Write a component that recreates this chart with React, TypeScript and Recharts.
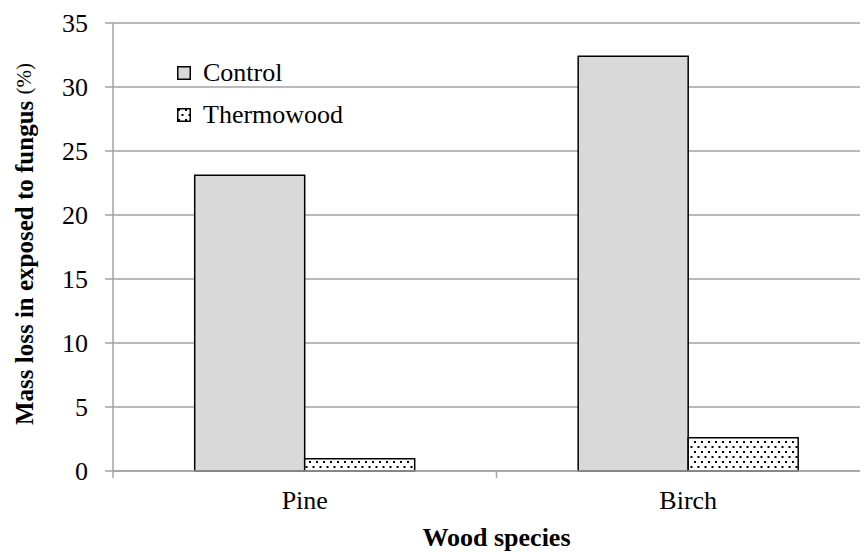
import { BarChart, Bar, XAxis, YAxis, CartesianGrid, Label } from 'recharts';

const species = ['Pine', 'Birch'];
const control = [23.1, 32.4];
const thermowood = [0.95, 2.6];
const yTicks = [0, 5, 10, 15, 20, 25, 30, 35];
const legendItems = [
  { label: 'Control', fill: '#d9d9d9' },
  { label: 'Thermowood', fill: 'url(#dotsLegend)' },
];

const data = species.map((name, i) => ({
  name,
  control: control[i],
  thermowood: thermowood[i],
}));

const FONT = "'Liberation Serif', 'Times New Roman', Times, serif";
const AXIS_GRAY = '#a3a3a3';
const X_TICK_MARGIN = 20;

function DotPattern({ id }: { id: string }) {
  return (
    <pattern id={id} width={7} height={10} patternUnits="userSpaceOnUse">
      <rect width={7} height={10} fill="#fff" />
      <rect x={1} y={1} width={2} height={2} fill="#000" />
      <rect x={4.5} y={6} width={2} height={2} fill="#000" />
    </pattern>
  );
}

function CategoryTick(props: any) {
  const { x, y, payload, index, visibleTicksCount } = props;
  const half = payload?.offset ?? 191.75;
  const axisY = y - X_TICK_MARGIN;
  const last = index === (visibleTicksCount ?? species.length) - 1;
  return (
    <g>
      <line x1={x - half} x2={x - half} y1={axisY} y2={axisY + 7} stroke={AXIS_GRAY} strokeWidth={1.5} />
      {last && (
        <line x1={x + half} x2={x + half} y1={axisY} y2={axisY + 7} stroke={AXIS_GRAY} strokeWidth={1.5} />
      )}
      <text x={x} y={y} dy="0.71em" textAnchor="middle" fill="#000" fontSize={26} style={{ fontFamily: FONT }}>
        {payload.value}
      </text>
    </g>
  );
}

function ChartLegend() {
  return (
    <svg width={220} height={90} style={{ position: 'absolute', left: 177, top: 56 }}>
      <defs>
        <DotPattern id="dotsLegend" />
      </defs>
      {legendItems.map((it, i) => (
        <g key={it.label} transform={`translate(0, ${i * 42})`}>
          <rect x={0.75} y={10.75} width={12.5} height={12.5} fill={it.fill} stroke="#000" strokeWidth={1.5} />
          <text x={26} y={25} fontSize={26} fill="#000" style={{ fontFamily: FONT }}>
            {it.label}
          </text>
        </g>
      ))}
    </svg>
  );
}

export default function App() {
  return (
    <div
      style={{
        position: 'relative',
        margin: '-8px 0 0 -8px',
        width: 868,
        height: 552,
        overflow: 'hidden',
        background: '#fff',
        fontFamily: FONT,
      }}
    >
      <BarChart
        width={880}
        height={552}
        data={data}
        margin={{ top: 23, right: 0, bottom: 0, left: 0 }}
        barCategoryGap="21.3%"
        barGap={0}
        style={{ fontFamily: FONT }}
      >
        <defs>
          <DotPattern id="dots" />
        </defs>
        <CartesianGrid vertical={false} stroke={AXIS_GRAY} strokeWidth={1.5} />
        <XAxis
          dataKey="name"
          height={81}
          axisLine={{ stroke: AXIS_GRAY, strokeWidth: 1.5 }}
          tickLine={false}
          tickSize={0}
          tickMargin={X_TICK_MARGIN}
          tick={<CategoryTick />}
        >
          <Label
            value="Wood species"
            position="insideBottom"
            offset={6}
            fontSize={26}
            fontWeight="bold"
            fontFamily={FONT}
            fill="#000"
          />
        </XAxis>
        <YAxis
          width={113}
          domain={[0, 35]}
          ticks={yTicks}
          interval={0}
          axisLine={{ stroke: AXIS_GRAY, strokeWidth: 1.5 }}
          tickLine={{ stroke: AXIS_GRAY, strokeWidth: 1.5 }}
          tickSize={8}
          tickMargin={17}
          tick={{ fill: '#000', fontSize: 26, fontFamily: FONT }}
        >
          <Label
            content={({ viewBox }: any) => {
              const cx = 24;
              const cy = viewBox.y + viewBox.height / 2 - 3;
              return (
                <text
                  x={cx}
                  y={cy}
                  transform={`rotate(-90, ${cx}, ${cy})`}
                  textAnchor="middle"
                  dominantBaseline="central"
                  fill="#000"
                  style={{ fontFamily: FONT }}
                >
                  <tspan fontSize={25} fontWeight="bold">Mass loss in exposed to fungus </tspan>
                  <tspan fontSize={21}>(%)</tspan>
                </text>
              );
            }}
          />
        </YAxis>
        <Bar dataKey="control" name="Control" fill="#d9d9d9" stroke="#000" strokeWidth={1.5} isAnimationActive={false} />
        <Bar dataKey="thermowood" name="Thermowood" fill="url(#dots)" stroke="#000" strokeWidth={1.5} isAnimationActive={false} />
      </BarChart>
      <ChartLegend />
    </div>
  );
}
